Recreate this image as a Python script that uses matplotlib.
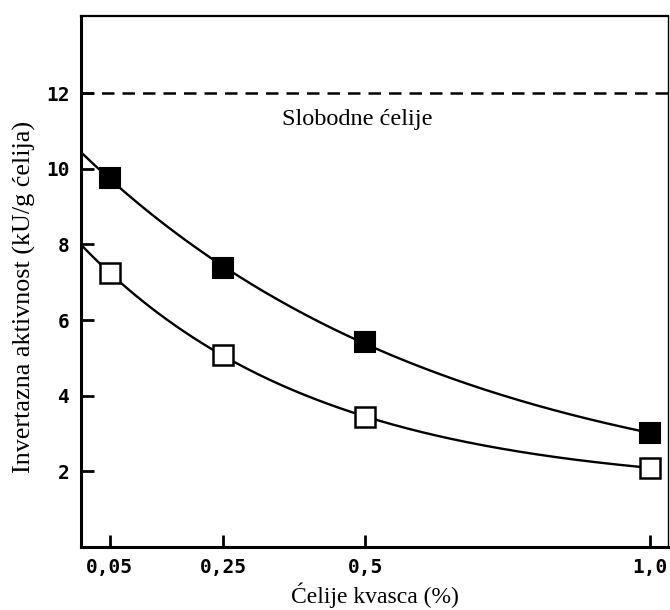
import numpy as np
import matplotlib
matplotlib.use('Agg')
import matplotlib.pyplot as plt

# data
x_pts = [0.05, 0.25, 0.5, 1.0]
filled = [9.75, 7.38, 5.41, 3.01]
open_ = [7.25, 5.07, 3.44, 2.10]
free_cells = 12.0

x_ticks = [0.05, 0.25, 0.5, 1.0]
x_labels = ['0,05', '0,25', '0,5', '1,0']
y_ticks = [2, 4, 6, 8, 10, 12]
y_labels = ['2', '4', '6', '8', '10', '12']


def fit_decay(x, y):
    '''fit y = a + b*exp(-k*x), grid over k, least squares for a, b'''
    x = np.asarray(x)
    y = np.asarray(y)
    best = None
    for k in np.linspace(0.2, 6, 600):
        M = np.column_stack([np.ones_like(x), np.exp(-k*x)])
        coef, res, _, _ = np.linalg.lstsq(M, y, rcond=None)
        err = np.sum((M @ coef - y)**2)
        if best is None or err < best[0]:
            best = (err, k, coef)
    _, k, (a, b) = best
    return lambda t: a + b*np.exp(-k*t)


fig = plt.figure(figsize=(6.7, 6.1), dpi=100)
ax = fig.add_axes([0.121, 0.103, 0.876, 0.871])

xs = np.linspace(0, 1.0, 200)
for ys in (filled, open_):
    f = fit_decay(x_pts, ys)
    ax.plot(xs, f(xs), color='black', lw=1.7, zorder=2)

ax.plot(x_pts, filled, 's', ms=14, mfc='black', mec='black', mew=1.5, zorder=3)
ax.plot(x_pts, open_, 's', ms=14, mfc='white', mec='black', mew=1.8, zorder=3)

ax.axhline(free_cells, color='black', lw=1.8, ls=(0, (5, 3.2)))
ax.text(0.354, 11.31, 'Slobodne ćelije', family='Liberation Serif',
        fontsize=17.5, va='center', ha='left')

ax.set_xlim(0, 1.032)
ax.set_ylim(0, 14.04)
ax.set_xticks(x_ticks)
ax.set_xticklabels(x_labels)
ax.set_yticks(y_ticks)
ax.set_yticklabels(y_labels)
ax.tick_params(direction='in', length=9, width=2, labelsize=14, pad=8)
for lab in ax.get_xticklabels() + ax.get_yticklabels():
    lab.set_family('DejaVu Sans Mono')
    lab.set_weight('bold')

ax.spines['left'].set_linewidth(2.2)
ax.spines['bottom'].set_linewidth(2.2)
ax.spines['top'].set_linewidth(1.6)
ax.spines['right'].set_linewidth(1.0)

fig.text(0.56, 0.003, 'Ćelije kvasca (%)', family='Liberation Serif',
         fontsize=17, ha='center', va='bottom')
fig.text(0.036, 0.513, 'Invertazna aktivnost (kU/g ćelija)', family='Liberation Serif',
         fontsize=18.8, ha='center', va='center', rotation=90)

fig.savefig('out.png', dpi=100)
